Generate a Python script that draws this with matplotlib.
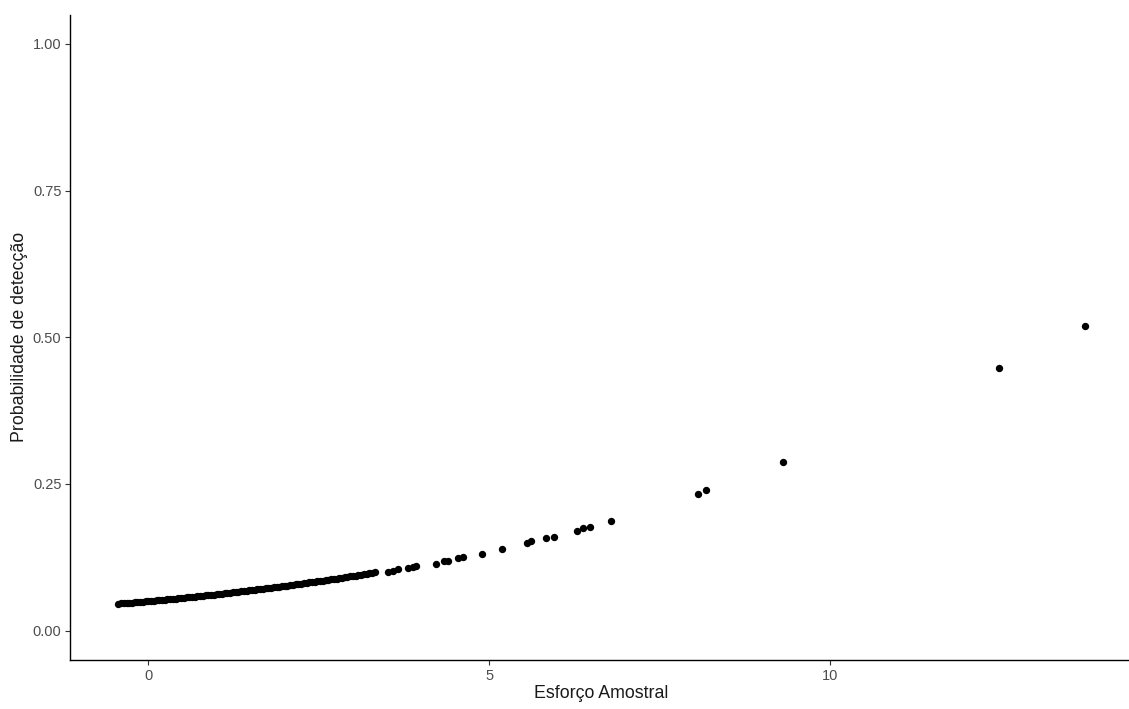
import matplotlib
matplotlib.use("Agg")
import matplotlib.pyplot as plt

plt.rcParams['font.family'] = ['Liberation Sans', 'DejaVu Sans']

# Dense band of points (Esforço Amostral vs predicted detection probability)
dense_x = [-0.44, -0.40, -0.36, -0.32, -0.28, -0.24, -0.20, -0.16, -0.12, -0.08, -0.04, 0.00,
           0.04, 0.08, 0.12, 0.16, 0.20, 0.24, 0.28, 0.32, 0.36, 0.40, 0.44, 0.48,
           0.52, 0.56, 0.60, 0.64, 0.68, 0.72, 0.76, 0.80, 0.84, 0.88, 0.92, 0.96,
           1.00, 1.04, 1.08, 1.12, 1.16, 1.20, 1.24, 1.28, 1.32, 1.36, 1.40, 1.44,
           1.48, 1.52, 1.56, 1.60, 1.64, 1.68, 1.72, 1.76, 1.80, 1.84, 1.88, 1.92,
           1.96, 2.00, 2.04, 2.08, 2.12, 2.16, 2.20, 2.24, 2.28, 2.32, 2.36, 2.40,
           2.44, 2.48, 2.52, 2.56, 2.60, 2.64, 2.68, 2.72, 2.76, 2.80, 2.84, 2.88,
           2.92, 2.96, 3.00, 3.04, 3.08, 3.12, 3.16, 3.20, 3.24, 3.28, 3.32]
dense_y = [0.0460, 0.0464, 0.0468, 0.0472, 0.0476, 0.0480, 0.0484, 0.0488, 0.0492, 0.0496, 0.0500, 0.0504,
           0.0508, 0.0512, 0.0517, 0.0521, 0.0526, 0.0530, 0.0535, 0.0539, 0.0544, 0.0548, 0.0553, 0.0557,
           0.0562, 0.0567, 0.0572, 0.0577, 0.0582, 0.0587, 0.0592, 0.0597, 0.0602, 0.0607, 0.0612, 0.0616,
           0.0621, 0.0626, 0.0632, 0.0637, 0.0643, 0.0648, 0.0653, 0.0658, 0.0664, 0.0669, 0.0675, 0.0680,
           0.0686, 0.0691, 0.0697, 0.0703, 0.0709, 0.0715, 0.0721, 0.0727, 0.0733, 0.0739, 0.0745, 0.0751,
           0.0757, 0.0763, 0.0769, 0.0775, 0.0782, 0.0788, 0.0795, 0.0801, 0.0808, 0.0814, 0.0821, 0.0827,
           0.0834, 0.0840, 0.0847, 0.0854, 0.0861, 0.0868, 0.0875, 0.0882, 0.0889, 0.0896, 0.0903, 0.0910,
           0.0918, 0.0925, 0.0932, 0.0940, 0.0947, 0.0955, 0.0962, 0.0970, 0.0977, 0.0985, 0.0993]

# Sparse points
sparse_x = [3.52, 3.59, 3.66, 3.81, 3.88, 3.93, 4.22, 4.33, 4.40, 4.54, 4.61, 4.90,
            5.19, 5.55, 5.61, 5.83, 5.95, 6.28, 6.38, 6.47, 6.79, 8.06, 8.17, 9.30,
            12.47, 13.73]
sparse_y = [0.100, 0.102, 0.105, 0.107, 0.109, 0.111, 0.114, 0.119, 0.119, 0.123, 0.125, 0.131,
            0.140, 0.150, 0.152, 0.158, 0.160, 0.170, 0.175, 0.177, 0.187, 0.233, 0.240, 0.288,
            0.448, 0.520]

x_ticks = [0, 5, 10]
y_ticks = [0.00, 0.25, 0.50, 0.75, 1.00]
y_tick_labels = ["0.00", "0.25", "0.50", "0.75", "1.00"]

W, H = 1129, 709
fig = plt.figure(figsize=(W / 100, H / 100), dpi=100)
left_px, right_px, top_px, bottom_px = 70, 1133, 14.6, 660
ax = fig.add_axes([left_px / W, 1 - bottom_px / H, (right_px - left_px) / W, (bottom_px - top_px) / H])

all_x = dense_x + sparse_x
all_y = dense_y + sparse_y
ax.scatter(all_x, all_y, s=28, color='black', linewidths=0, zorder=3, clip_on=False)

xmin, xmax = min(all_x), max(all_x)
pad = 0.05 * (xmax - xmin)
ax.set_xlim(xmin - pad, xmax + pad)
ax.set_ylim(-0.05, 1.05)

ax.set_xticks(x_ticks)
ax.set_xticklabels([str(t) for t in x_ticks])
ax.set_yticks(y_ticks)
ax.set_yticklabels(y_tick_labels)

for s in ['top', 'right']:
    ax.spines[s].set_visible(False)
for s in ['left', 'bottom']:
    ax.spines[s].set_color('black')
    ax.spines[s].set_linewidth(1.0)

ax.tick_params(axis='both', colors='#333333', labelcolor='#4D4D4D', labelsize=10.5,
               length=3.7, width=0.8, pad=2.5)

ax.set_xlabel('Esforço Amostral', fontsize=12.8, color='#1A1A1A', labelpad=1.5)
ax.set_ylabel('Probabilidade de detecção', fontsize=12.8, color='#1A1A1A', labelpad=3)

fig.savefig('out.png', dpi=100, facecolor='white')
